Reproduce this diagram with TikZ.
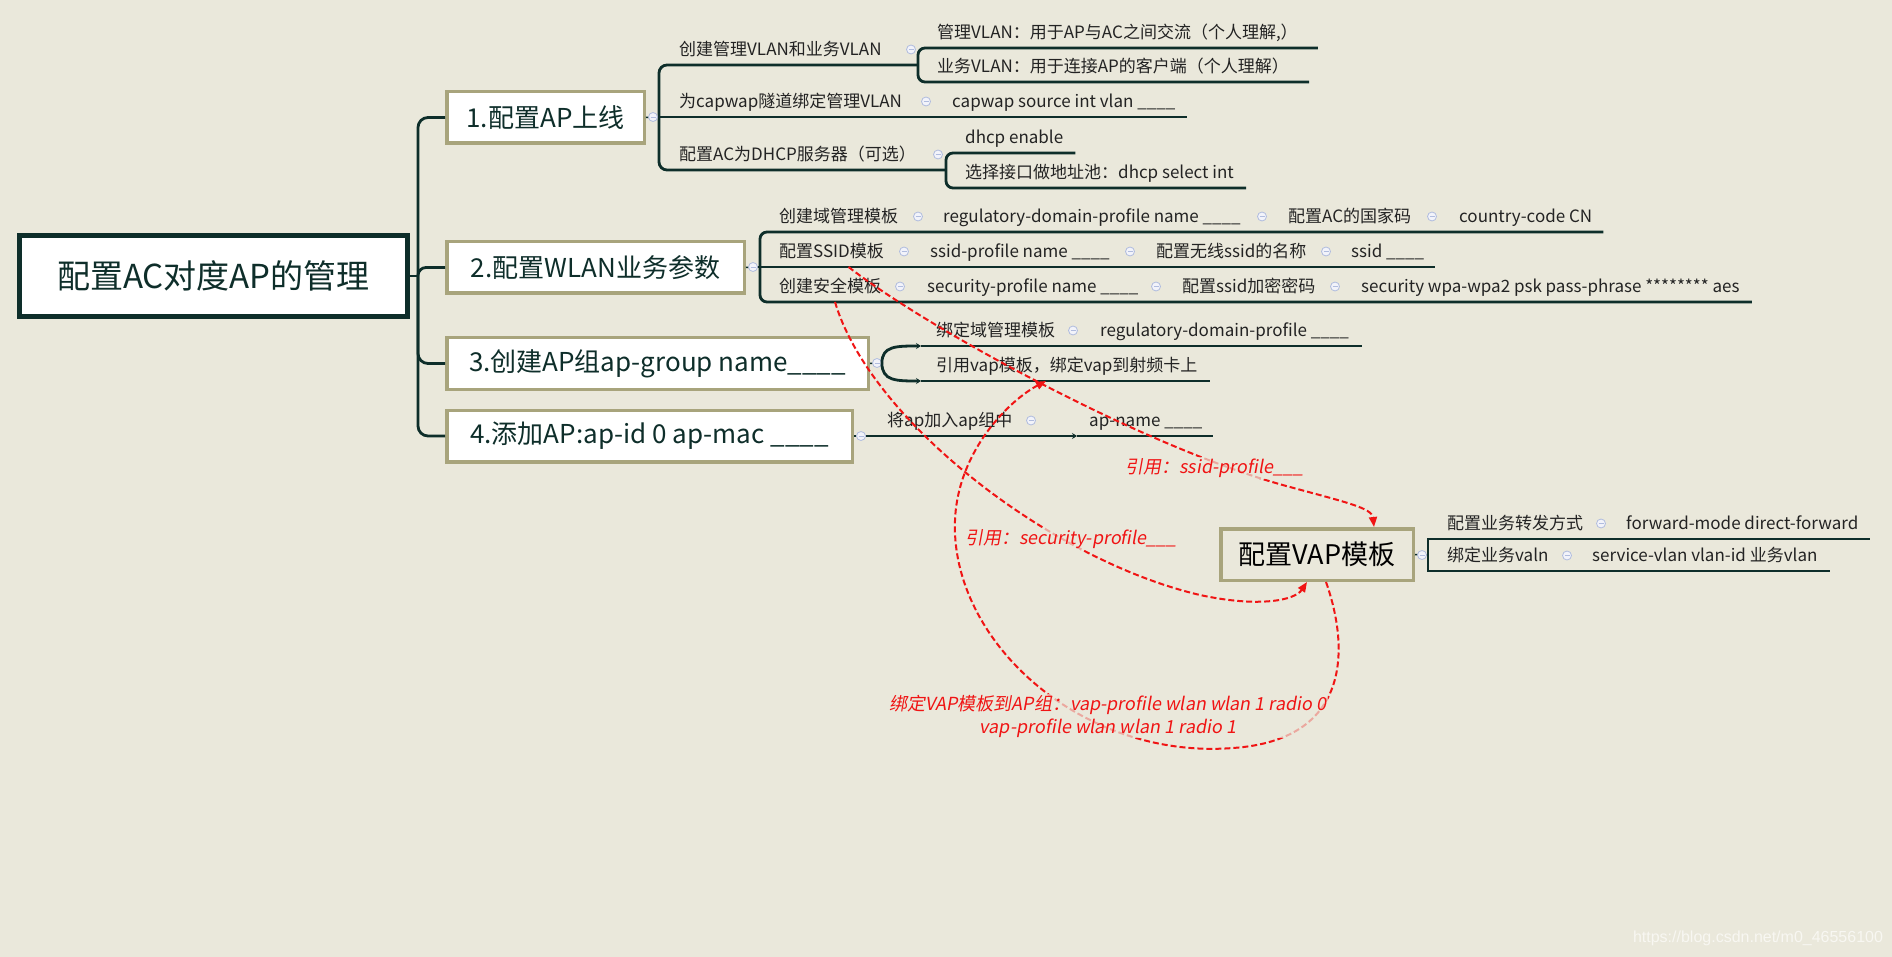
\documentclass[tikz,border=0pt]{standalone}
\usepackage{fontspec}
\setmainfont{Noto Sans CJK SC}
\newfontfamily\slantfont[FakeSlant=0.18]{Noto Sans CJK SC}
\newfontfamily\markfont{Liberation Sans}
\usetikzlibrary{arrows.meta}

\definecolor{paper}{RGB}{234,232,219}
\definecolor{darkline}{RGB}{14,46,42}
\definecolor{boxolive}{RGB}{168,164,124}
\definecolor{foldline}{RGB}{176,188,222}
\definecolor{foldfill}{RGB}{242,243,250}
\definecolor{itemtext}{RGB}{35,35,35}
\definecolor{refred}{RGB}{240,20,20}
\definecolor{markgray}{RGB}{248,247,242}

\newcommand\fmain{\fontsize{33}{36}\selectfont}
\newcommand\ftopic{\fontsize{26}{30}\selectfont}
\newcommand\fitem{\fontsize{17}{20}\selectfont}
\newcommand\fref{\slantfont\fontsize{18}{23}\selectfont}
\newcommand\blank{\textunderscore\textunderscore\textunderscore\textunderscore}
\newcommand\shortblank{\textunderscore\textunderscore\textunderscore}

\tikzset{
  rootbox/.style={draw=darkline, line width=5pt, fill=white, text=darkline, font=\fmain,
    minimum width=388pt, minimum height=81pt, inner sep=0pt},
  topicbox/.style={draw=boxolive, line width=3.5pt, fill=white, text=darkline, font=\ftopic,
    minimum height=51.5pt, inner sep=0pt},
  vapbox/.style={draw=boxolive, line width=3.5pt, fill=paper, text=black,
    font=\fontsize{27}{30}\selectfont, minimum width=192.5pt, minimum height=51.5pt, inner sep=0pt},
  item/.style={anchor=south west, inner sep=0pt, text=itemtext, font=\fitem,
    text height=21.8pt, text depth=9.2pt},
  fold/.style={circle, draw=foldline, fill=foldfill, line width=0.8pt, minimum size=9pt, inner sep=0pt,
    path picture={\draw[foldline, line width=0.9pt]
      ([xshift=-2.5pt]path picture bounding box.center) -- ([xshift=2.5pt]path picture bounding box.center);}},
  branch/.style={draw=darkline, line width=2.8pt},
  twig/.style={draw=darkline, line width=1.5pt},
  refline/.style={draw=refred, line width=2pt, dash pattern=on 6pt off 3pt,
    -{Triangle[length=10pt,width=8pt]}},
  refnote/.style={text=refred, font=\fref, inner sep=1pt, fill=paper, fill opacity=0.7, text opacity=1},
}

\begin{document}
\begin{tikzpicture}[x=1pt,y=-1pt]
%%%%% START %%%%%
\fill[paper] (0,0) rectangle (1892,957);
\useasboundingbox (0,0) rectangle (1892,957);

% root and the four topics
\node[rootbox] (root) at (213.5,276) {配置AC对度AP的管理};
\node[topicbox, minimum width=197.5pt] (n1) at (545.5,117.5) {1.配置AP上线};
\node[topicbox, minimum width=297.5pt] (n2) at (595.5,267.5) {2.配置WLAN业务参数};
\node[topicbox, minimum width=421.5pt] (n3) at (657.5,363.5) {3.创建AP组ap-group name\blank};
\node[topicbox, minimum width=405.5pt] (n4) at (649.5,436) {4.添加AP:ap-id 0 ap-mac \blank};

\coordinate (hub) at (418,276);
\draw[branch] (root.east) -- (hub);
\draw[branch, rounded corners=10pt] (n1.west) -| (hub) |- (n4.west);
\draw[branch, rounded corners=8pt] (n2.west) -| (hub);
\draw[branch, rounded corners=10pt] (n3.west) -| (hub);

% topic 1
\node[item] (a1) at (679,65) {创建管理VLAN和业务VLAN};
\node[item] (a11) at (937,48) {管理VLAN：用于AP与AC之间交流（个人理解,）};
\node[item] (a12) at (937,82) {业务VLAN：用于连接AP的客户端（个人理解）};
\node[item] (a2) at (679,117) {为capwap隧道绑定管理VLAN};
\node[item] (a21) at (952,117) {capwap source int vlan \blank};
\node[item] (a3) at (679,170) {配置AC为DHCP服务器（可选）};
\node[item] (a31) at (965,153) {dhcp enable};
\node[item] (a32) at (965,188) {选择接口做地址池：dhcp select int};

\draw[twig] (n1.east) -- (653,117);
\draw[branch, rounded corners=8pt] (918,65) -- (659,65) -- (659,170) -- (945,170);
\draw[branch] (653,117) -- ([xshift=12pt]a21.south east);
\draw[branch, rounded corners=7pt] ([xshift=20pt]a11.south east) -- (918,48) -- (918,82) -- ([xshift=20pt]a12.south east);
\draw[branch, rounded corners=7pt] ([xshift=12pt]a31.south east) -- (946,153) -- (946,188) -- ([xshift=12pt]a32.south east);
\node[fold] (d1) at (653,117) {};
\node[fold] (fa1) at (911,49.5) {};
\node[fold] (fa2) at (926,101.5) {};
\node[fold] (fa3) at (938,154.5) {};

% topic 2
\node[item] (b1) at (779,232) {创建域管理模板};
\node[item] (b11) at (943,232) {regulatory-domain-profile name \blank};
\node[item] (b12) at (1288,232) {配置AC的国家码};
\node[item] (b13) at (1459,232) {country-code CN};
\node[item] (b2) at (779,267) {配置SSID模板};
\node[item] (b21) at (930,267) {ssid-profile name \blank};
\node[item] (b22) at (1156,267) {配置无线ssid的名称};
\node[item] (b23) at (1351,267) {ssid \blank};
\node[item] (b3) at (779,302) {创建安全模板};
\node[item] (b31) at (927,302) {security-profile name \blank};
\node[item] (b32) at (1182,302) {配置ssid加密密码};
\node[item] (b33) at (1361,302) {security wpa-wpa2 psk pass-phrase ******** aes};

\draw[twig] (n2.east) -- (753,267);
\draw[branch, rounded corners=7pt] ([xshift=11pt]b13.south east) -- (760,232) -- (760,302) -- ([xshift=12pt]b33.south east);
\draw[branch] (753,267) -- ([xshift=11pt]b23.south east);
\node[fold] (d2) at (753,267) {};
\node[fold] (fb1) at (918,216.5) {};
\node[fold] (fb11) at (1262,216.5) {};
\node[fold] (fb12) at (1432,216.5) {};
\node[fold] (fb2) at (904,251.5) {};
\node[fold] (fb21) at (1130,251.5) {};
\node[fold] (fb22) at (1326,251.5) {};
\node[fold] (fb3) at (900,286.5) {};
\node[fold] (fb31) at (1156,286.5) {};
\node[fold] (fb32) at (1335,286.5) {};

% topic 3
\node[item] (c1) at (936,346) {绑定域管理模板};
\node[item] (c11) at (1100,346) {regulatory-domain-profile \blank};
\node[item] (c2) at (936,381) {引用vap模板，绑定vap到射频卡上};
\node[fold] (d3) at (877,363) {};
\coordinate (k3a) at (921,346);
\coordinate (k3b) at (921,381);
\draw[twig] (n3.east) -- (d3);
\draw[branch, -{Stealth[length=5pt,width=6pt]}] (d3.east) .. controls (882,346) and (896,346) .. (k3a);
\draw[branch, -{Stealth[length=5pt,width=6pt]}] (d3.east) .. controls (882,381) and (896,381) .. (k3b);
\draw[branch] (k3a) -- ([xshift=13pt]c11.south east);
\draw[branch] (k3b) -- ([xshift=12pt]c2.south east);
\node[fold] (fc1) at (1073,330.5) {};

% topic 4
\node[item] (e1) at (887,436) {将ap加入ap组中};
\node[item] (e11) at (1089,436) {ap-name \blank};
\node[fold] (d4) at (861,436) {};
\coordinate (k4) at (1077,436);
\draw[twig] (n4.east) -- (d4);
\draw[branch, -{Stealth[length=5pt,width=6pt]}] (d4) -- (k4);
\draw[branch] (k4) -- ([xshift=11pt]e11.south east);
\node[fold] (fe1) at (1031,420.5) {};

% VAP template
\node[vapbox] (vap) at (1317,554.5) {配置VAP模板};
\node[item] (v1) at (1447,539) {配置业务转发方式};
\node[item] (v11) at (1626,539) {forward-mode direct-forward};
\node[item] (v2) at (1447,571) {绑定业务valn};
\node[item] (v21) at (1592,571) {service-vlan vlan-id 业务vlan};
\draw[twig] (vap.east) -- (1428,555);
\draw[twig] ([xshift=11pt]v11.south east) -- (1428,539) -- (1428,571) -- ([xshift=12pt]v21.south east);
\node[fold] (dv) at (1422,555) {};
\node[fold] (fv1) at (1601,523.5) {};
\node[fold] (fv2) at (1567,555.5) {};

% references
\draw[refline] ([xshift=17pt]b2.south) .. controls (930,330) and (1150,450) .. (1290,487)
  .. controls (1345,502) and (1372,508) .. ([xshift=57pt]vap.north);
\draw[refline] ([xshift=56pt]b3.south west) .. controls (870,420) and (1050,560) .. (1200,595)
  .. controls (1260,608) and (1295,600) .. ([xshift=-10pt]vap.south);
\draw[refline] ([xshift=9pt]vap.south) .. controls (1350,650) and (1350,740) .. (1233,748)
  .. controls (1080,760) and (950,640) .. (955,520)
  .. controls (958,450) and (1010,400) .. ([xshift=110pt]c2.south west);

\node[refnote, anchor=west] (r1) at (1124,468) {引用：ssid-profile\shortblank};
\node[refnote, anchor=west] (r2) at (964,539) {引用：security-profile\shortblank};
\node[refnote, align=center] (r3) at (1108,716) {绑定VAP模板到AP组：vap-profile wlan wlan 1 radio 0\\vap-profile wlan wlan 1 radio 1};

\node[font=\markfont\fontsize{16}{18}\selectfont, text=markgray] (mark) at (1758,938) {https://blog.csdn.net/m0\_46556100};
%%%%% END %%%%%
\end{tikzpicture}
\end{document}
